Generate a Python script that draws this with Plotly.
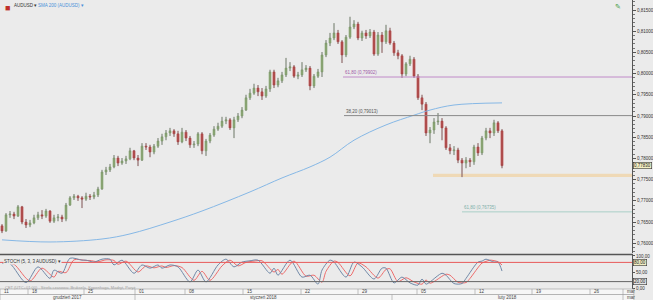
import plotly.graph_objects as go

# ---------------- data (AUDUSD, 4H-ish candles) ----------------
opens = [0.7641,0.7629,0.7667,0.7669,0.7664,0.7686,0.7650,0.7643,0.7648,0.7660,
         0.7667,0.7664,0.7676,0.7652,0.7660,0.7662,0.7657,0.7690,0.7707,0.7711,
         0.7707,0.7704,0.7711,0.7709,0.7714,0.7728,0.7768,0.7773,0.7780,0.7801,
         0.7789,0.7794,0.7799,0.7818,0.7801,0.7796,0.7829,0.7827,0.7815,0.7829,
         0.7841,0.7851,0.7860,0.7865,0.7858,0.7839,0.7862,0.7848,0.7832,0.7834,
         0.7858,0.7818,0.7841,0.7855,0.7869,0.7876,0.7888,0.7891,0.7872,0.7891,
         0.7900,0.7914,0.7943,0.7954,0.7966,0.7957,0.7947,0.7964,0.8004,0.7973,
         0.7983,0.7997,0.8013,0.8016,0.7994,0.7997,0.8009,0.8013,0.7971,0.7994,
         0.8004,0.8044,0.8072,0.8084,0.8096,0.8075,0.8044,0.8086,0.8110,0.8117,
         0.8084,0.8096,0.8089,0.8098,0.8046,0.8091,0.8075,0.8101,0.8072,0.8049,
         0.8042,0.7999,0.8023,0.8034,0.7994,0.7943,0.7928,0.7860,0.7867,0.7886,
         0.7888,0.7872,0.7825,0.7818,0.7820,0.7796,0.7789,0.7796,0.7792,0.7827,
         0.7813,0.7848,0.7865,0.7860,0.7884,0.7865]
highs = [0.7645,0.7671,0.7676,0.7674,0.7690,0.7688,0.7657,0.7655,0.7667,0.7674,
         0.7678,0.7681,0.7678,0.7667,0.7669,0.7667,0.7695,0.7711,0.7716,0.7714,
         0.7711,0.7719,0.7716,0.7721,0.7733,0.7773,0.7780,0.7787,0.7808,0.7806,
         0.7801,0.7806,0.7825,0.7820,0.7808,0.7836,0.7836,0.7832,0.7834,0.7848,
         0.7858,0.7867,0.7872,0.7869,0.7865,0.7872,0.7867,0.7853,0.7841,0.7862,
         0.7862,0.7846,0.7860,0.7876,0.7884,0.7898,0.7898,0.7895,0.7898,0.7907,
         0.7921,0.7950,0.7964,0.7976,0.7973,0.7966,0.7971,0.8009,0.8009,0.7990,
         0.8004,0.8037,0.8027,0.8020,0.8004,0.8027,0.8020,0.8018,0.7999,0.8011,
         0.8051,0.8079,0.8096,0.8119,0.8103,0.8079,0.8091,0.8134,0.8126,0.8122,
         0.8101,0.8103,0.8105,0.8103,0.8098,0.8098,0.8115,0.8108,0.8077,0.8056,
         0.8046,0.8027,0.8042,0.8039,0.7999,0.7950,0.7933,0.7874,0.7895,0.7907,
         0.7895,0.7876,0.7834,0.7829,0.7825,0.7801,0.7803,0.7801,0.7832,0.7836,
         0.7853,0.7872,0.7872,0.7891,0.7888,0.7869]
lows = [0.7624,0.7627,0.7660,0.7657,0.7662,0.7645,0.7636,0.7638,0.7645,0.7655,
        0.7657,0.7660,0.7648,0.7648,0.7652,0.7650,0.7652,0.7688,0.7702,0.7700,
        0.7683,0.7700,0.7702,0.7704,0.7709,0.7726,0.7761,0.7768,0.7777,0.7782,
        0.7785,0.7787,0.7796,0.7796,0.7782,0.7794,0.7820,0.7803,0.7810,0.7825,
        0.7832,0.7843,0.7853,0.7851,0.7832,0.7836,0.7841,0.7825,0.7825,0.7829,
        0.7810,0.7806,0.7836,0.7851,0.7865,0.7872,0.7881,0.7867,0.7848,0.7886,
        0.7895,0.7912,0.7938,0.7950,0.7947,0.7938,0.7943,0.7957,0.7966,0.7968,
        0.7978,0.7992,0.8006,0.7990,0.7987,0.7992,0.8004,0.7961,0.7966,0.7990,
        0.7992,0.8039,0.8065,0.8079,0.8070,0.8025,0.8039,0.8082,0.8105,0.8079,
        0.8077,0.8082,0.8084,0.8042,0.8042,0.8049,0.8070,0.8068,0.8042,0.8034,
        0.7990,0.7994,0.8018,0.7990,0.7938,0.7914,0.7853,0.7836,0.7858,0.7879,
        0.7843,0.7820,0.7810,0.7808,0.7789,0.7756,0.7777,0.7780,0.7785,0.7806,
        0.7808,0.7843,0.7848,0.7853,0.7860,0.7777]
closes = [0.7629,0.7667,0.7669,0.7664,0.7686,0.7650,0.7643,0.7648,0.7660,0.7667,
          0.7664,0.7676,0.7652,0.7660,0.7662,0.7657,0.7690,0.7707,0.7711,0.7707,
          0.7704,0.7711,0.7709,0.7714,0.7728,0.7768,0.7773,0.7780,0.7801,0.7789,
          0.7794,0.7799,0.7818,0.7801,0.7796,0.7829,0.7827,0.7815,0.7829,0.7841,
          0.7851,0.7860,0.7865,0.7858,0.7839,0.7862,0.7848,0.7832,0.7834,0.7858,
          0.7818,0.7841,0.7855,0.7869,0.7876,0.7888,0.7891,0.7872,0.7891,0.7900,
          0.7914,0.7943,0.7954,0.7966,0.7957,0.7947,0.7964,0.8004,0.7973,0.7983,
          0.7997,0.8013,0.8016,0.7994,0.7997,0.8009,0.8013,0.7971,0.7994,0.8004,
          0.8044,0.8072,0.8084,0.8096,0.8075,0.8044,0.8086,0.8110,0.8117,0.8084,
          0.8096,0.8089,0.8098,0.8046,0.8091,0.8075,0.8101,0.8072,0.8049,0.8042,
          0.7999,0.8023,0.8034,0.7994,0.7943,0.7928,0.7860,0.7867,0.7886,0.7888,
          0.7872,0.7825,0.7818,0.7820,0.7796,0.7789,0.7796,0.7792,0.7827,0.7813,
          0.7848,0.7865,0.7860,0.7884,0.7865,0.7783]

# SMA 200 read at selected candles
sma_idx = [0, 12, 25, 32, 42, 50, 62, 70, 77, 82, 88, 96, 103, 107, 113, 125]
sma_val = [0.7608, 0.7603, 0.7610, 0.7622, 0.7650, 0.7676, 0.7721, 0.7754,
           0.7780, 0.7803, 0.7843, 0.7879, 0.7902, 0.7914, 0.7926, 0.7931]

# Stochastic (5,3,3) read at selected candles
k_idx = [0, 2, 6, 9, 12, 13, 15, 17, 20, 21, 23, 25, 27, 28, 30, 33, 35, 37, 39, 40,
         42, 44, 47, 49, 51, 54, 56, 58, 60, 62, 64, 67, 68, 69, 72, 75, 77, 79, 80, 82,
         83, 86, 88, 90, 93, 95, 96, 98, 100, 102, 104, 105, 106, 107, 110, 111, 113, 115,
         116, 119, 120, 121, 123, 124, 125]
k_val = [78, 76, 17, 66, 30, 56, 46, 93, 87, 87, 81, 90, 90, 72, 87, 46, 72, 62, 72, 62,
         72, 66, 19, 56, 19, 72, 90, 66, 81, 85, 87, 46, 62, 40, 87, 34, 40, 12, 56, 87,
         81, 34, 81, 66, 28, 62, 62, 16, 34, 16, 9, 28, 12, 19, 46, 40, 14, 14,
         30, 81, 84, 90, 81, 81, 53]
d_idx = [1, 3, 7, 10, 13, 14, 16, 18, 21, 22, 24, 26, 28, 29, 31, 34, 36, 38, 40, 41,
         43, 45, 48, 50, 52, 55, 57, 59, 61, 63, 65, 68, 69, 70, 73, 76, 78, 80, 81, 83,
         84, 87, 89, 91, 94, 96, 97, 99, 101, 103, 105, 106, 107, 108, 111, 112, 114, 116,
         117, 120, 121, 122, 124, 125]
d_val = [77, 74, 22, 62, 34, 52, 48, 88, 86, 86, 82, 88, 86, 74, 84, 50, 69, 63, 69, 64,
         70, 64, 24, 52, 24, 69, 87, 69, 80, 84, 85, 50, 58, 43, 84, 37, 40, 18, 52, 84,
         80, 38, 78, 66, 31, 58, 60, 20, 32, 19, 12, 25, 15, 20, 43, 40, 18, 17,
         30, 78, 83, 87, 82, 72]

# Levels
fib_upper = 0.7992
fib_mid = 0.7901
fib_low = 0.7674
zone_low, zone_high = 0.7756, 0.7764
last_price = 0.7783

# time axis (candle index positions)
day_ticks = [-0.5, 6.5, 20.5, 33.25, 45.75, 60.25, 74.75, 89, 103.75, 118.25, 132.5, 147, 155.25]
day_labels = ["11", "18", "25", "01", "08", "15", "22", "29", "05", "12", "19", "26", "mar"]
month_bounds = [-0.5, 33.25, 97.5, 155.25]
month_labels = ["grudzień 2017", "styczeń 2018", "luty 2018", "mar"]

X_MIN, X_MAX = -0.5, 157.5
Y_MIN, Y_MAX = 0.75770, 0.81736

idx = list(range(len(closes)))
FONT = "Liberation Sans, Arial, sans-serif"

fig = go.Figure()

# wicks
wx, wy = [], []
for i, h, l in zip(idx, highs, lows):
    wx += [i, i, None]
    wy += [l, h, None]
fig.add_trace(go.Scatter(x=wx, y=wy, mode="lines", line=dict(color="#8a8a8a", width=1),
                         hoverinfo="skip", showlegend=False, xaxis="x", yaxis="y"))
fig.add_trace(go.Candlestick(
    x=idx, open=opens, high=highs, low=lows, close=closes,
    increasing=dict(fillcolor="#8cc65a", line=dict(color="#6f9a55", width=0.5)),
    decreasing=dict(fillcolor="#e01010", line=dict(color="#b00000", width=0.5)),
    whiskerwidth=0, showlegend=False, xaxis="x", yaxis="y"))
fig.add_trace(go.Scatter(x=sma_idx, y=sma_val, mode="lines", line=dict(color="#86b8e6", width=1, shape="spline"),
                         showlegend=False, xaxis="x", yaxis="y"))

# stochastic
fig.add_trace(go.Scatter(x=d_idx, y=d_val, mode="lines", line=dict(color="#ee6b6b", width=1, shape="spline", smoothing=0.8),
                         showlegend=False, xaxis="x2", yaxis="y2"))
fig.add_trace(go.Scatter(x=k_idx, y=k_val, mode="lines", line=dict(color="#7189a8", width=1, shape="spline", smoothing=0.8),
                         showlegend=False, xaxis="x2", yaxis="y2"))

shapes = []
# support zone
shapes.append(dict(type="rect", xref="x", yref="y", x0=107.75, x1=X_MAX, y0=zone_low, y1=zone_high,
                   fillcolor="#efd9b6", line=dict(width=0), layer="below"))
# fib lines
shapes.append(dict(type="line", xref="x", yref="y", x0=85.25, x1=X_MAX, y0=fib_upper, y1=fib_upper,
                   line=dict(color="#c08ac8", width=1)))
shapes.append(dict(type="line", xref="x", yref="y", x0=85.5, x1=X_MAX, y0=fib_mid, y1=fib_mid,
                   line=dict(color="#8a8a8a", width=1)))
shapes.append(dict(type="line", xref="x", yref="y", x0=115, x1=X_MAX, y0=fib_low, y1=fib_low,
                   line=dict(color="#a9cfc7", width=1)))
# pane separator
shapes.append(dict(type="line", xref="paper", yref="paper", x0=0, x1=1.0016, y0=0.1194, y1=0.1194,
                   line=dict(color="#555555", width=1.5)))
# stoch levels
shapes.append(dict(type="line", xref="paper", yref="y2", x0=0, x1=1, y0=80, y1=80,
                   line=dict(color="#e85a5a", width=1)))
shapes.append(dict(type="line", xref="paper", yref="y2", x0=0, x1=1, y0=20, y1=20,
                   line=dict(color="#666666", width=1)))
# date rows
R1 = -5.5 / 289
R2 = -11.5 / 289
shapes.append(dict(type="rect", xref="paper", yref="paper", x0=0, x1=1.003, y0=0, y1=R1,
                   fillcolor="#f6f6f6", line=dict(color="#9a9a9a", width=0.6)))
shapes.append(dict(type="rect", xref="paper", yref="paper", x0=0, x1=1.003, y0=R1, y1=R2,
                   fillcolor="#f6f6f6", line=dict(color="#9a9a9a", width=0.6)))
for t in day_ticks[1:]:
    shapes.append(dict(type="line", xref="x", yref="paper", x0=t, x1=t, y0=0, y1=R1,
                       line=dict(color="#9a9a9a", width=0.6)))
for t in month_bounds[1:]:
    shapes.append(dict(type="line", xref="x", yref="paper", x0=t, x1=t, y0=R1, y1=R2,
                       line=dict(color="#9a9a9a", width=0.6)))

ann = []
small = dict(family=FONT, size=4.5)
ann.append(dict(xref="x", yref="y", x=85.25, y=fib_upper, text="61,80 (0,79902)", showarrow=False,
                xanchor="left", yanchor="bottom", font=dict(small, color="#a05aa8")))
ann.append(dict(xref="x", yref="y", x=85.5, y=fib_mid, text="38,20 (0,79013)", showarrow=False,
                xanchor="left", yanchor="bottom", font=dict(small, color="#555555")))
ann.append(dict(xref="x", yref="y", x=115, y=fib_low, text="61,80 (0,76735)", showarrow=False,
                xanchor="left", yanchor="bottom", font=dict(small, color="#7fb0aa")))
# date labels
for t, lab in zip(day_ticks, day_labels):
    ann.append(dict(xref="x", yref="paper", x=t, y=-2.7 / 289, text=lab, showarrow=False,
                    xanchor="left", yanchor="middle", xshift=2, font=dict(small, color="#444")))
for k, lab in enumerate(month_labels):
    if k < len(month_bounds) - 1:
        cx = (month_bounds[k] + month_bounds[k + 1]) / 2
        ann.append(dict(xref="x", yref="paper", x=cx, y=-8.5 / 289, text=lab, showarrow=False,
                        xanchor="center", yanchor="middle", font=dict(small, color="#444")))
    else:
        ann.append(dict(xref="x", yref="paper", x=month_bounds[k], y=-8.5 / 289, text=lab, showarrow=False,
                        xanchor="left", yanchor="middle", xshift=2, font=dict(small, color="#444")))
# legends
ann.append(dict(xref="paper", yref="paper", x=0.005, y=0.998, text="<b>■</b>", showarrow=False,
                xanchor="left", yanchor="top", font=dict(family=FONT, size=9, color="#c0302a")))
ann.append(dict(xref="paper", yref="paper", x=0.019, y=0.995, text="AUDUSD ▾", showarrow=False,
                xanchor="left", yanchor="top", font=dict(small, color="#333")))
ann.append(dict(xref="paper", yref="paper", x=0.057, y=0.995, text="SMA 200 (AUDUSD) ▾", showarrow=False,
                xanchor="left", yanchor="top", font=dict(small, color="#4a90d9")))
ann.append(dict(xref="paper", yref="y2", x=0.004, y=84, text="STOCH (5, 3, 3 AUDUSD) ▾", showarrow=False,
                xanchor="left", yanchor="middle", bgcolor="#ebebeb", borderpad=0, font=dict(small, color="#333")))
ann.append(dict(xref="paper", yref="y2", x=0.004, y=3, text="CET (UTC+01:00) - Strefa czasowa: Bruksela, Kopenhaga, Madryt, Paryż",
                showarrow=False, xanchor="left", yanchor="middle", font=dict(family=FONT, size=4, color="#a0a0a0")))
# price boxes
ann.append(dict(xref="paper", yref="y", x=1.002, y=last_price, text="0,77830", showarrow=False,
                xanchor="left", yanchor="middle", bgcolor="#f3efc4", bordercolor="#333", borderwidth=0.6,
                borderpad=0.5, font=dict(small, color="#222")))
ann.append(dict(xref="paper", yref="y2", x=1.002, y=80, text="80,00", showarrow=False,
                xanchor="left", yanchor="middle", bgcolor="#f3efc4", bordercolor="#333", borderwidth=0.6,
                borderpad=0.5, font=dict(small, color="#222")))
ann.append(dict(xref="paper", yref="y2", x=1.002, y=20, text="20,00", showarrow=False,
                xanchor="left", yanchor="middle", bgcolor="#e4e4e4", bordercolor="#333", borderwidth=0.6,
                borderpad=0.5, font=dict(small, color="#222")))
# top right icon
ann.append(dict(xref="paper", yref="paper", x=0.978, y=0.998, text="✎", showarrow=False,
                xanchor="center", yanchor="top", font=dict(family="DejaVu Sans", size=7, color="#3a9a3a")))

main_ticks = [0.760, 0.765, 0.770, 0.775, 0.780, 0.785, 0.790, 0.795, 0.800, 0.805, 0.810, 0.815]

fig.update_layout(
    width=653, height=300, autosize=False,
    margin=dict(l=0, r=21, t=0, b=11),
    paper_bgcolor="#ebebeb", plot_bgcolor="#ebebeb",
    separators=", ",
    showlegend=False,
    shapes=shapes, annotations=ann,
    xaxis=dict(domain=[0, 1], range=[X_MIN, X_MAX], anchor="y", showticklabels=False, showgrid=False,
               zeroline=False, showline=False, ticks="", rangeslider=dict(visible=False), fixedrange=True),
    xaxis2=dict(domain=[0, 1], range=[X_MIN, X_MAX], anchor="y2", showticklabels=False, showgrid=False,
                zeroline=False, showline=False, ticks="", fixedrange=True),
    yaxis=dict(domain=[36 / 289, 1], range=[Y_MIN, Y_MAX], side="right", anchor="x",
               tickvals=main_ticks, tickformat=".5f", showgrid=False, zeroline=False,
               showline=True, linecolor="#555", linewidth=1, ticks="outside", ticklen=3, tickcolor="#555",
               tickfont=dict(family=FONT, size=4.5, color="#333"),
               minor=dict(dtick=0.001, tick0=0.76, ticks="outside", ticklen=1.5, tickcolor="#777", showgrid=False),
               fixedrange=True),
    yaxis2=dict(domain=[0, 34 / 289], range=[-3.1, 103.1], side="right", anchor="x2",
                tickvals=[0, 50, 100], ticktext=["0,00", "50,00", "100,00"], showgrid=False, zeroline=False,
                showline=True, linecolor="#555", linewidth=1, ticks="outside", ticklen=2, tickcolor="#555",
                tickfont=dict(family=FONT, size=4.5, color="#333"), fixedrange=True),
)

fig.write_html("out.html")
